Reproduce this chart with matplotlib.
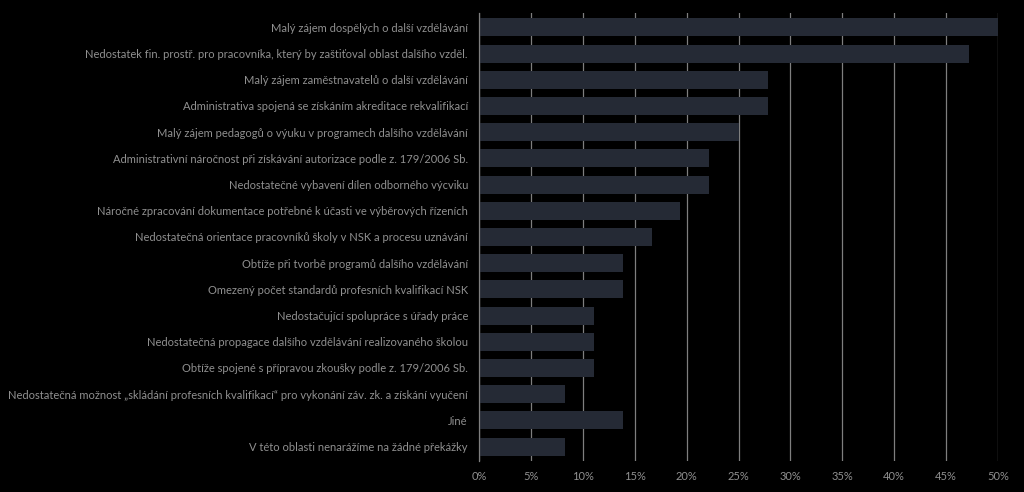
import matplotlib.pyplot as plt
from matplotlib.ticker import PercentFormatter

plt.rcParams['font.family'] = ['Lato', 'DejaVu Sans']

categories = [
    "Malý zájem dospělých o další vzdělávání",
    "Nedostatek fin. prostř. pro pracovníka, který by zaštiťoval oblast dalšího vzděl.",
    "Malý zájem zaměstnavatelů o další vzdělávání",
    "Administrativa spojená se získáním akreditace rekvalifikací",
    "Malý zájem pedagogů o výuku v programech dalšího vzdělávání",
    "Administrativní náročnost při získávání autorizace podle z. 179/2006 Sb.",
    "Nedostatečné vybavení dílen odborného výcviku",
    "Náročné zpracování dokumentace potřebné k účasti ve výběrových řízeních",
    "Nedostatečná orientace pracovníků školy v NSK a procesu uznávání",
    "Obtíže při tvorbě programů dalšího vzdělávání",
    "Omezený počet standardů profesních kvalifikací NSK",
    "Nedostačující spolupráce s úřady práce",
    "Nedostatečná propagace dalšího vzdělávání realizovaného školou",
    "Obtíže spojené s přípravou zkoušky podle z. 179/2006 Sb.",
    "Nedostatečná možnost „skládání profesních kvalifikací“ pro vykonání záv. zk. a získání vyučení",
    "Jiné",
    "V této oblasti nenarážíme na žádné překážky",
]
values = [50.0, 47.2, 27.8, 27.8, 25.0, 22.2, 22.2, 19.4, 16.7, 13.9,
          13.9, 11.1, 11.1, 11.1, 8.3, 13.9, 8.3]
xticks = [0, 5, 10, 15, 20, 25, 30, 35, 40, 45, 50]

bg = 'black'
bar_color = '#252a35'
text_color = '#909090'
grid_color = '#7f7f7f'

fig = plt.figure(figsize=(10.24, 4.92), dpi=100, facecolor=bg)
ax = fig.add_axes([0.4678, 0.063, 0.5068, 0.9106])
ax.set_facecolor(bg)

ypos = list(range(len(categories)))
ax.barh(ypos, values, height=0.69, color=bar_color, zorder=2)

ax.set_xlim(0, 50)
ax.set_ylim(len(categories) - 0.45, -0.55)
ax.set_xticks(xticks)
ax.xaxis.set_major_formatter(PercentFormatter(decimals=0))
ax.set_yticks(ypos)
ax.set_yticklabels(categories)
ax.tick_params(axis='y', length=0, pad=8, labelsize=8.05, labelcolor=text_color)
ax.tick_params(axis='x', length=0, pad=7, labelsize=8, labelcolor=text_color)

ax.grid(axis='x', color=grid_color, linewidth=0.9, zorder=0)
for s in ['top', 'right', 'bottom']:
    ax.spines[s].set_visible(False)
ax.spines['left'].set_color(grid_color)
ax.spines['left'].set_linewidth(0.9)

fig.savefig('out.png', dpi=100, facecolor=bg)
